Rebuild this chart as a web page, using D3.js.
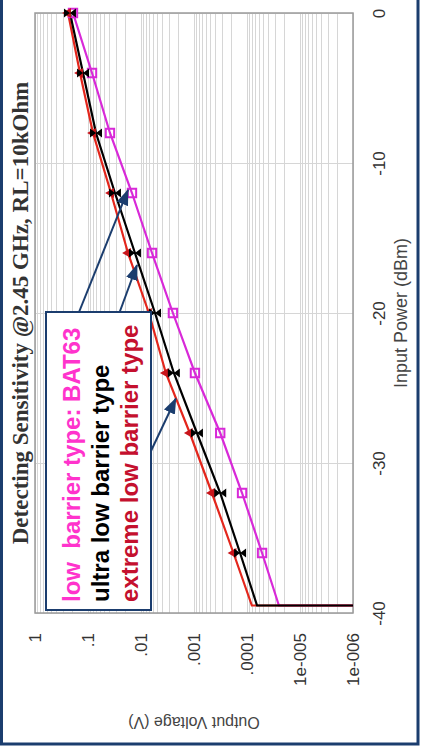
<!DOCTYPE html>
<html>
<head>
  <meta charset="utf-8" />
  <title>Detecting Sensitivity @2.45 GHz</title>
  <script src="https://d3js.org/d3.v7.min.js"></script>
  <style>
    body {
      margin: 0;
      padding: 0;
      background: #fff;
    }
    svg {
      display: block;
      font-family: "Liberation Sans", Arial, sans-serif;
    }
    .grid line {
      stroke: #d6d6d6;
      stroke-width: 1;
      shape-rendering: crispEdges;
    }
    .grid path {
      display: none;
    }
  </style>
</head>
<body>
  <svg width="421" height="750"></svg>

  <script>
    // data: input power (dBm) and output voltage (V) for each diode type
    const powerDbm = [0, -4, -8, -12, -16, -20, -24, -28, -32, -36];
    const bat63 = [0.192, 0.084, 0.0385, 0.0148, 0.0062, 0.0025, 0.00096, 0.00032, 0.000124, 0.000052];
    const ultraLow = [0.219, 0.124, 0.0706, 0.031, 0.013, 0.00544, 0.0024, 0.00088, 0.00032, 0.000135];
    const extremeLow = [0.238, 0.1416, 0.0805, 0.0368, 0.0176, 0.0071, 0.0034, 0.0012, 0.00046, 0.00018];

    // each curve runs on to the detection limit and then falls off the chart
    const cutoffDbm = -39.5;
    const cutoffValues = [0.000025, 0.0000646, 0.000081];
    const floorVolt = 1e-7;

    const powerTicks = [-40, -30, -20, -10, 0];
    const powerLabels = ["-40", "-30", "-20", "-10", "0"];
    const voltTicks = [1, 0.1, 0.01, 0.001, 0.0001, 1e-5, 1e-6];
    const voltLabels = ["1", ".1", ".01", ".001", ".0001", "1e-005", "1e-006"];

    const legendLines = ["low  barrier type: BAT63", "ultra low barrier type", "extreme low barrier type"];
    // arrows from the legend to the curves, in chart units [dBm, V]
    const arrows = [
      { from: [-21.1, 0.2], to: [-11.8, 0.0176] },
      { from: [-23.5, 0.0594], to: [-16.8, 0.0119] },
      { from: [-31.3, 0.0124], to: [-25.7, 0.0022] }
    ];

    const navy = "#1b3d6e";

    // the chart lies on its side: power runs up the page, voltage runs across
    const margin = { top: 13, right: 68, bottom: 137, left: 35 };
    const width = 421, height = 750;
    const innerWidth = width - margin.left - margin.right;   // voltage
    const innerHeight = height - margin.top - margin.bottom; // power

    const svg = d3.select("svg");

    const pScale = d3.scaleLinear().domain([-40, 0]).range([innerHeight, 0]);
    const vScale = d3.scaleLog().domain([1e-6, 1]).range([innerWidth, 0]);

    const g = svg.append("g")
      .attr("transform", `translate(${margin.left},${margin.top})`);

    g.append("clipPath").attr("id", "plot-clip")
      .append("rect")
      .attr("width", innerWidth)
      .attr("height", innerHeight);

    // grid
    g.append("g").attr("class", "grid")
      .attr("transform", `translate(0,${innerHeight})`)
      .call(d3.axisBottom(vScale).tickValues(vScale.ticks()).tickSize(-innerHeight).tickFormat(""));

    g.append("g").attr("class", "grid")
      .call(d3.axisLeft(pScale).tickValues(powerTicks).tickSize(-innerWidth).tickFormat(""));

    g.append("rect")
      .attr("width", innerWidth)
      .attr("height", innerHeight)
      .attr("fill", "none")
      .attr("stroke", "#9a9a9a")
      .attr("stroke-width", 1.5);

    // voltage axis along the bottom, labels turned
    const vAxis = g.append("g")
      .attr("transform", `translate(0,${innerHeight})`)
      .call(d3.axisBottom(vScale).tickValues(voltTicks)
        .tickFormat((d, i) => voltLabels[i])
        .tickSize(0));
    vAxis.select(".domain").remove();
    vAxis.selectAll("text")
      .attr("x", 0)
      .attr("y", 0)
      .attr("dy", "0.32em")
      .attr("transform", "translate(0,20) rotate(-90)")
      .attr("text-anchor", "end")
      .attr("font-size", 17)
      .attr("fill", "#333");

    // power axis on the right
    const pAxis = g.append("g")
      .attr("transform", `translate(${innerWidth},0)`)
      .call(d3.axisRight(pScale).tickValues(powerTicks)
        .tickFormat((d, i) => powerLabels[i])
        .tickSize(0));
    pAxis.select(".domain").remove();
    pAxis.selectAll("text")
      .attr("x", 0)
      .attr("y", 0)
      .attr("dy", 0)
      .attr("transform", "translate(32,0) rotate(-90)")
      .attr("text-anchor", "middle")
      .attr("font-size", 17)
      .attr("fill", "#333");

    // series
    const series = [
      { values: bat63, cutoff: cutoffValues[0], color: "#d829d8", mark: "square" },
      { values: extremeLow, cutoff: cutoffValues[2], color: "#e3261c", mark: "triangle" },
      { values: ultraLow, cutoff: cutoffValues[1], color: "#000", mark: "bowtie" }
    ];

    const line = d3.line()
      .x(d => vScale(d[1]))
      .y(d => pScale(d[0]));

    const plot = g.append("g").attr("clip-path", "url(#plot-clip)");

    series.forEach(s => {
      const pts = powerDbm.map((p, i) => [p, s.values[i]]);
      pts.push([cutoffDbm, s.cutoff], [cutoffDbm, floorVolt]);
      plot.append("path")
        .datum(pts)
        .attr("fill", "none")
        .attr("stroke", s.color)
        .attr("stroke-width", 2.2)
        .attr("d", line);
    });

    series.forEach(s => {
      const marks = g.append("g").selectAll("path")
        .data(powerDbm.map((p, i) => [p, s.values[i]]))
        .join("path")
        .attr("transform", d => `translate(${vScale(d[1])},${pScale(d[0])})`);
      if (s.mark === "square") {
        marks.attr("d", d3.symbol(d3.symbolSquare, 70))
          .attr("fill", "none")
          .attr("stroke", s.color)
          .attr("stroke-width", 2);
      } else if (s.mark === "triangle") {
        marks.attr("d", d3.symbol(d3.symbolTriangle, 45))
          .attr("transform", d => `translate(${vScale(d[1])},${pScale(d[0])}) rotate(-90)`)
          .attr("fill", "#c8141a");
      } else {
        marks.attr("d", "M-6,-4.5L-6,4.5L6,-4.5L6,4.5Z")
          .attr("fill", "#000");
      }
    });

    // titles
    const midP = margin.top + innerHeight / 2;
    svg.append("text")
      .attr("transform", `translate(28,${midP}) rotate(-90)`)
      .attr("text-anchor", "middle")
      .attr("font-family", "Liberation Serif, Times New Roman, serif")
      .attr("font-weight", "bold")
      .attr("font-size", 23)
      .attr("fill", "#333")
      .text("Detecting Sensitivity @2.45 GHz, RL=10kOhm");

    svg.append("text")
      .attr("transform", `translate(407,${midP}) rotate(-90)`)
      .attr("text-anchor", "middle")
      .attr("font-size", 18)
      .attr("fill", "#444")
      .text("Input Power (dBm)");

    svg.append("text")
      .attr("transform", `translate(${margin.left + innerWidth / 2},716.5) rotate(180)`)
      .attr("text-anchor", "middle")
      .attr("font-size", 16)
      .attr("fill", "#444")
      .text("Output Voltage (V)");

    // legend box with arrows
    const legend = svg.append("g").attr("transform", "translate(46,312)");
    legend.append("rect")
      .attr("width", 105)
      .attr("height", 298)
      .attr("fill", "#fff")
      .attr("stroke", navy)
      .attr("stroke-width", 2);

    const legendColors = ["#ff33cc", "#000", "#c4102e"];
    legend.selectAll("text")
      .data(legendLines)
      .join("text")
      .attr("transform", (d, i) => `translate(${34 + i * 29},290) rotate(-90)`)
      .attr("font-size", 24)
      .attr("font-weight", "bold")
      .attr("fill", (d, i) => legendColors[i])
      .style("white-space", "pre")
      .text(d => d);

    svg.append("defs").append("marker")
      .attr("id", "arrow")
      .attr("markerUnits", "userSpaceOnUse")
      .attr("viewBox", "0 0 16 12")
      .attr("refX", 15)
      .attr("refY", 6)
      .attr("markerWidth", 16)
      .attr("markerHeight", 12)
      .attr("orient", "auto")
      .append("path")
      .attr("d", "M0,0L16,6L0,12Z")
      .attr("fill", navy);

    g.append("g").selectAll("line")
      .data(arrows)
      .join("line")
      .attr("x1", d => vScale(d.from[1]))
      .attr("y1", d => pScale(d.from[0]))
      .attr("x2", d => vScale(d.to[1]))
      .attr("y2", d => pScale(d.to[0]))
      .attr("stroke", navy)
      .attr("stroke-width", 2)
      .attr("marker-end", "url(#arrow)");

    // page frame
    svg.append("rect")
      .attr("x", 1.5)
      .attr("y", -5)
      .attr("width", 416.5)
      .attr("height", 749)
      .attr("fill", "none")
      .attr("stroke", navy)
      .attr("stroke-width", 3);
  </script>
</body>
</html>
